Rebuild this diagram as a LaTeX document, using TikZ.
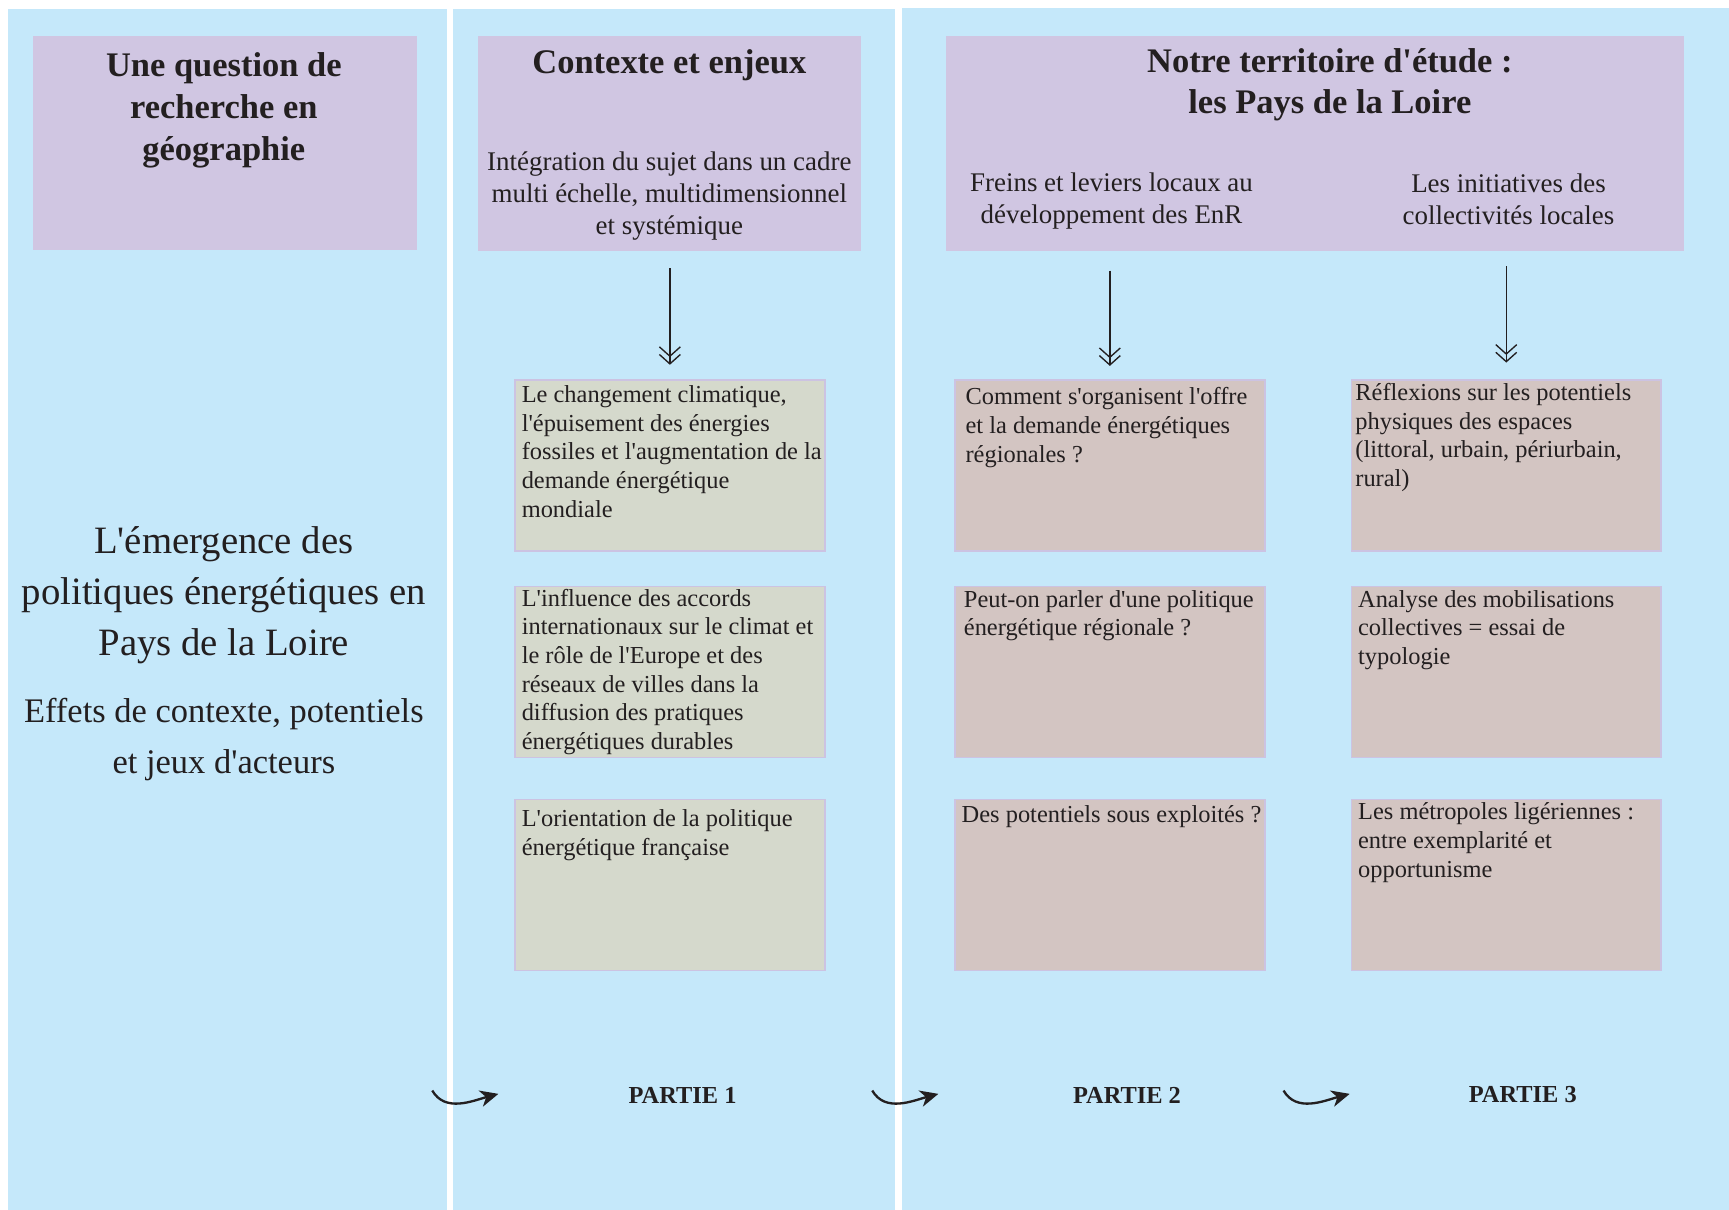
\documentclass[tikz,border=0pt]{standalone}
\usepackage{fontspec}
\setmainfont{Liberation Serif}[Ligatures=TeXOff]
\usetikzlibrary{arrows.meta}

\definecolor{panelblue}{HTML}{C5E8FA}
\definecolor{headpurple}{HTML}{D0C6E2}
\definecolor{boxgreen}{HTML}{D5D9CC}
\definecolor{boxpink}{HTML}{D3C5C2}
\definecolor{boxline}{HTML}{CCC3E2}
\definecolor{inkdark}{HTML}{231F20}

\tikzset{
  headbox/.style={fill=headpurple,draw=none,inner sep=0pt},
  greenbox/.style={fill=boxgreen,draw=boxline,line width=0.8pt,inner sep=0pt,minimum width=5.62cm,minimum height=3.1cm},
  pinkbox/.style={greenbox,fill=boxpink},
  titletxt/.style={text=inkdark,align=center,font=\fontsize{17.8}{21.5}\selectfont\bfseries},
  subtxt/.style={text=inkdark,align=center,font=\fontsize{13.9}{16.4}\selectfont},
  boxtxt/.style={text=inkdark,align=left,anchor=north west,inner xsep=0.13cm,inner ysep=0.07cm,font=\fontsize{12.6}{14.8}\selectfont},
  bigtxt/.style={text=inkdark,align=center,font=\fontsize{20}{26.4}\selectfont},
  parttxt/.style={text=inkdark,font=\fontsize{12.6}{15}\selectfont\bfseries},
  downarrow/.style={draw=inkdark,line width=0.7pt,-{Straight Barb[length=0.17cm,width=0.38cm,sep=-0.06cm]Straight Barb[length=0.17cm,width=0.38cm]}},
  partarrow/.style={draw=inkdark,line width=1.2pt,-{Stealth[length=0.33cm,width=0.3cm,inset=0.1cm]}}
}

\begin{document}
\begin{tikzpicture}[x=0.02cm,y=-0.02cm]
       \useasboundingbox (0,0) rectangle (1568,1097);
       \fill[white] (0,0) rectangle (1568,1097);
       % panels
       \fill[panelblue] (7,8) rectangle (405,1097);
       \fill[panelblue] (411,8) rectangle (812,1097);
       \fill[panelblue] (818,7) rectangle (1568,1097);

       % headers
       \node[headbox,minimum width=6.96cm,minimum height=3.88cm] (h1) at (204,130) {};
       \node[headbox,minimum width=6.96cm,minimum height=3.9cm] (h2) at (607,130.5) {};
       \node[headbox,minimum width=13.38cm,minimum height=3.9cm] (h3) at (1192.5,130.5) {};
       \node[titletxt] (h1t) at (203,100) {Une question de\\recherche en\\géographie};
       \node[titletxt] (h2t) at (607,59) {Contexte et enjeux};
       \node[subtxt] (h2s) at (607,178) {Intégration du sujet dans un cadre\\multi échelle, multidimensionnel\\et systémique};
       \node[titletxt] (h3t) at (1206,77) {Notre territoire d'étude :\\les Pays de la Loire};
       \node[subtxt] (h3b) at (1008,182) {Freins et leviers locaux au\\développement des EnR};
       \node[subtxt] (h3c) at (1368,181) {Les initiatives des\\collectivités locales};

       % left panel
       \node[bigtxt] (sujet) at (203,540) {L'émergence des\\politiques énergétiques en\\Pays de la Loire};
       \node[bigtxt,font=\fontsize{17.8}{26.4}\selectfont] (soustitre) at (203,671) {Effets de contexte, potentiels\\et jeux d'acteurs};

       % boxes
       \node[greenbox] (a1) at (607.5,422) {};
       \node[greenbox] (a2) at (607.5,609.5) {};
       \node[greenbox] (a3) at (607.5,802.5) {};
       \node[pinkbox] (b1) at (1006.5,422) {};
       \node[pinkbox] (b2) at (1006.5,609.5) {};
       \node[pinkbox] (b3) at (1006.5,802.5) {};
       \node[pinkbox] (c1) at (1366,422) {};
       \node[pinkbox] (c2) at (1366,609.5) {};
       \node[pinkbox] (c3) at (1366,802.5) {};

       \node[boxtxt,inner ysep=0.11cm] (a1t) at (a1.north west) {Le changement climatique,\\l'épuisement des énergies\\fossiles et l'augmentation de la\\demande énergétique\\mondiale};
       \node[boxtxt,inner ysep=0.05cm] (a2t) at (a2.north west) {L'influence des accords\\internationaux sur le climat et\\le rôle de l'Europe et des\\réseaux de villes dans la\\diffusion des pratiques\\énergétiques durables};
       \node[boxtxt,inner ysep=0.19cm] (a3t) at (a3.north west) {L'orientation de la politique\\énergétique française};
       \node[boxtxt,inner xsep=0.2cm,inner ysep=0.15cm] (b1t) at (b1.north west) {Comment s'organisent l'offre\\et la demande énergétiques\\régionales ?};
       \node[boxtxt,inner xsep=0.17cm] (b2t) at (b2.north west) {Peut-on parler d'une politique\\énergétique régionale ?};
       \node[boxtxt,inner ysep=0.11cm] (b3t) at (b3.north west) {Des potentiels sous exploités ?};
       \node[boxtxt,inner xsep=0.08cm] (c1t) at (c1.north west) {Réflexions sur les potentiels\\physiques des espaces\\(littoral, urbain, périurbain,\\rural)};
       \node[boxtxt] (c2t) at (c2.north west) {Analyse des mobilisations\\collectives = essai de\\typologie};
       \node[boxtxt] (c3t) at (c3.north west) {Les métropoles ligériennes :\\entre exemplarité et\\opportunisme};

       % arrows
       \draw[downarrow,shorten <=0.3cm,shorten >=0.26cm] (a1.north |- h2.south) -- (a1.north);
       \draw[downarrow,shorten <=0.34cm,shorten >=0.24cm] (b1.north |- h3.south) -- (b1.north);
       \draw[downarrow,shorten <=0.26cm,shorten >=0.3cm] (c1.north |- h3.south) -- (c1.north);

       % parts
       \node[parttxt] (part1) at (619,993) {PARTIE 1};
       \node[parttxt] (part2) at (1022,993) {PARTIE 2};
       \node[parttxt] (part3) at (1381,993) {PARTIE 3};
       \coordinate (s1) at (392,989);
       \coordinate (e1) at (452,992);
       \coordinate (s2) at (791,989);
       \coordinate (e2) at (851,992);
       \coordinate (s3) at (1164,989);
       \coordinate (e3) at (1224,992);
       \draw[partarrow] (s1) to[out=-60,in=195] (e1);
       \draw[partarrow] (s2) to[out=-60,in=195] (e2);
       \draw[partarrow] (s3) to[out=-60,in=195] (e3);
\end{tikzpicture}
\end{document}
